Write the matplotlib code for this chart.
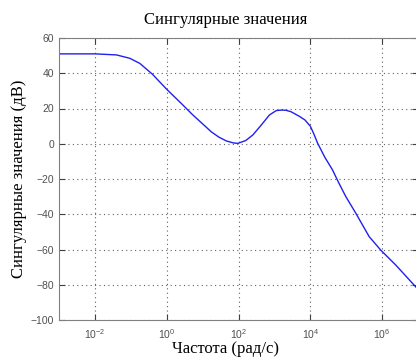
import numpy as np
import matplotlib
matplotlib.use("Agg")
import matplotlib.pyplot as plt
from matplotlib.ticker import FixedLocator, FixedFormatter, NullLocator

plt.rcParams['mathtext.fontset'] = 'custom'
plt.rcParams['mathtext.rm'] = 'Liberation Sans'
plt.rcParams['mathtext.it'] = 'Liberation Sans'
plt.rcParams['mathtext.default'] = 'regular'

# data (log10 of frequency, dB)
log_freq = [-3.0, -2.0, -1.4, -1.03, -0.75, -0.4, 0.0, 0.4, 0.73, 1.0, 1.24, 1.45, 1.66,
            1.85, 1.98, 2.2, 2.4, 2.65, 2.86, 3.05, 3.19, 3.32, 3.46, 3.7, 3.85, 4.0,
            4.1, 4.2, 4.4, 4.62, 4.8, 4.99, 5.27, 5.64, 5.96, 6.38, 6.95]
sv_db = [51.0, 51.0, 50.4, 48.5, 45.6, 39.5, 30.9, 23.0, 16.3, 11.3, 6.8, 3.8, 1.6,
         0.5, 0.2, 1.8, 5.0, 11.0, 16.3, 18.8, 19.1, 19.0, 18.2, 15.5, 13.5, 10.0,
         5.5, 0.5, -7.5, -14.9, -22.5, -30.0, -39.5, -52.7, -60.3, -68.8, -81.5]
x_ticks = [1e-2, 1e0, 1e2, 1e4, 1e6]
x_ticklabels = [r'$10^{-2}$', r'$10^{0}$', r'$10^{2}$', r'$10^{4}$', r'$10^{6}$']
y_ticks = [60, 40, 20, 0, -20, -40, -60, -80, -100]

freq = 10.0 ** np.array(log_freq)

fig = plt.figure(figsize=(4.16, 3.62), dpi=100)
ax = fig.add_axes([59/416, 1-320/362, (418-59)/416, (320-38)/362])
ax.semilogx(freq, sv_db, color='#2020f0', linewidth=1.0)
ax.set_xlim(1e-3, 1e7)
ax.set_ylim(-100, 60)
ax.xaxis.set_major_locator(FixedLocator(x_ticks))
ax.xaxis.set_major_formatter(FixedFormatter(x_ticklabels))
ax.xaxis.set_minor_locator(NullLocator())
ax.set_yticks(y_ticks)
ax.grid(True, which='major', linestyle=(0, (1, 3)), color='#606060', linewidth=0.8)
for s in ax.spines.values():
    s.set_color('#808080')
    s.set_linewidth(0.8)
ax.tick_params(direction='in', length=4, width=0.8, colors='#404040',
               labelcolor='#505050', labelsize=7.5, top=True, right=True)
ax.tick_params(axis='x', pad=5)
for lab in ax.get_xticklabels() + ax.get_yticklabels():
    lab.set_fontfamily('Liberation Sans')
cx = (226 - 59) / (418 - 59)
ax.set_title('Сингулярные значения', fontfamily='Liberation Serif', fontsize=12,
             pad=10, x=cx)
ax.set_xlabel('Частота (рад/с)', fontfamily='Liberation Serif', fontsize=12, labelpad=0)
ax.xaxis.set_label_coords(cx, -0.075)
ax.set_ylabel('Сингулярные значения (дВ)', fontfamily='Liberation Serif', fontsize=12, labelpad=3)
fig.savefig('out.png', dpi=100)
